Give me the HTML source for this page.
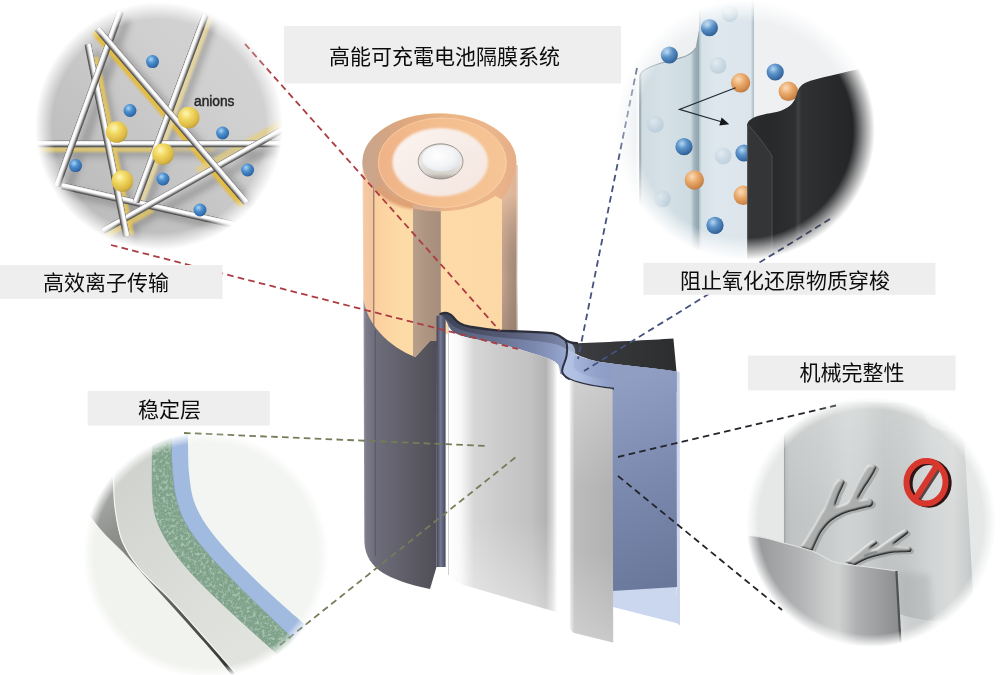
<!DOCTYPE html>
<html lang="zh"><head><meta charset="utf-8"><title>高能可充電电池隔膜系统</title>
<style>
html,body{margin:0;padding:0;background:#fff;}
body{width:1000px;height:675px;position:relative;overflow:hidden;font-family:"Liberation Sans",sans-serif;}
svg{position:absolute;left:0;top:0;display:block}
</style></head><body>
<svg width="1000" height="675" viewBox="0 0 1000 675">
<defs>
<radialGradient id="gYel" cx="0.38" cy="0.32" r="0.75">
 <stop offset="0" stop-color="#fdf5bb"/><stop offset="0.35" stop-color="#f3da62"/><stop offset="0.8" stop-color="#d9b642"/><stop offset="1" stop-color="#b39433"/>
</radialGradient>
<radialGradient id="gBlu" cx="0.38" cy="0.32" r="0.75">
 <stop offset="0" stop-color="#a9d4f5"/><stop offset="0.4" stop-color="#4d8fcf"/><stop offset="0.85" stop-color="#2f68a8"/><stop offset="1" stop-color="#1f4778"/>
</radialGradient>
<radialGradient id="gBlu2" cx="0.38" cy="0.32" r="0.75">
 <stop offset="0" stop-color="#b5d6f2"/><stop offset="0.4" stop-color="#5b93c9"/><stop offset="0.85" stop-color="#35679f"/><stop offset="1" stop-color="#234a78"/>
</radialGradient>
<radialGradient id="gPale" cx="0.38" cy="0.32" r="0.75">
 <stop offset="0" stop-color="#e4edf3"/><stop offset="0.6" stop-color="#b9cddc"/><stop offset="1" stop-color="#a3bbcd"/>
</radialGradient>
<radialGradient id="gOrg" cx="0.38" cy="0.32" r="0.75">
 <stop offset="0" stop-color="#fbdcb8"/><stop offset="0.45" stop-color="#e8a768"/><stop offset="0.85" stop-color="#cb8446"/><stop offset="1" stop-color="#a56a35"/>
</radialGradient>
<radialGradient id="fade" cx="0.5" cy="0.5" r="0.5">
 <stop offset="0" stop-color="#fff"/><stop offset="0.85" stop-color="#fff"/><stop offset="0.925" stop-color="#fff" stop-opacity="0.55"/><stop offset="1" stop-color="#fff" stop-opacity="0"/>
</radialGradient>
<filter id="b1" x="-20%" y="-20%" width="140%" height="140%"><feGaussianBlur stdDeviation="1"/></filter>
<filter id="b2" x="-20%" y="-20%" width="140%" height="140%"><feGaussianBlur stdDeviation="2"/></filter>
<filter id="b3" x="-20%" y="-20%" width="140%" height="140%"><feGaussianBlur stdDeviation="3.5"/></filter>
<filter id="b04" x="-5%" y="-5%" width="110%" height="110%"><feGaussianBlur stdDeviation="0.45"/></filter>
<filter id="b05" x="-20%" y="-20%" width="140%" height="140%"><feGaussianBlur stdDeviation="0.5"/></filter>

<linearGradient id="gGreyCyl" gradientUnits="userSpaceOnUse" x1="363" y1="0" x2="438" y2="0">
 <stop offset="0" stop-color="#a2a2af"/><stop offset="0.04" stop-color="#7b7b89"/><stop offset="0.16" stop-color="#6d6d7b"/>
 <stop offset="0.4" stop-color="#656470"/><stop offset="0.65" stop-color="#5c5b65"/><stop offset="0.85" stop-color="#55545d"/><stop offset="1" stop-color="#4e4d56"/>
</linearGradient>
<linearGradient id="gBody" gradientUnits="userSpaceOnUse" x1="362" y1="0" x2="517" y2="0">
 <stop offset="0" stop-color="#f9dcc4"/><stop offset="0.015" stop-color="#f4c9a4"/><stop offset="0.07" stop-color="#f3c59e"/><stop offset="0.073" stop-color="#a58671"/><stop offset="0.079" stop-color="#a58671"/><stop offset="0.082" stop-color="#fbcf9f"/>
 <stop offset="0.15" stop-color="#fcd4a2"/><stop offset="0.25" stop-color="#fddba6"/><stop offset="0.5" stop-color="#fddaa7"/><stop offset="1" stop-color="#fcd8a6"/>
</linearGradient>
<linearGradient id="gRStripH" gradientUnits="userSpaceOnUse" x1="502" y1="0" x2="518" y2="0">
 <stop offset="0" stop-color="#c4a48e"/><stop offset="0.5" stop-color="#ad927f"/><stop offset="0.85" stop-color="#a48a78"/><stop offset="1" stop-color="#a48a78" stop-opacity="0"/>
</linearGradient>
<linearGradient id="gRStripV" gradientUnits="userSpaceOnUse" x1="0" y1="195" x2="0" y2="335">
 <stop offset="0" stop-color="#f3c9a8" stop-opacity="0.7"/><stop offset="0.35" stop-color="#d0ab92" stop-opacity="0.2"/><stop offset="0.6" stop-color="#8f7a6c" stop-opacity="0"/><stop offset="1" stop-color="#7d6b60" stop-opacity="0.35"/>
</linearGradient>
<linearGradient id="gBand" gradientUnits="userSpaceOnUse" x1="413" y1="0" x2="441" y2="0">
 <stop offset="0" stop-color="#b9a08d"/><stop offset="0.5" stop-color="#ad9481"/><stop offset="1" stop-color="#a68e7c"/>
</linearGradient>
<linearGradient id="gBandDark" gradientUnits="userSpaceOnUse" x1="441" y1="0" x2="566" y2="0">
 <stop offset="0" stop-color="#3e4256"/><stop offset="0.5" stop-color="#545a74"/><stop offset="1" stop-color="#6b7494" stop-opacity="0.6"/>
</linearGradient>
<linearGradient id="gRim" gradientUnits="userSpaceOnUse" x1="362" y1="0" x2="516" y2="0">
 <stop offset="0" stop-color="#c8a68f"/><stop offset="0.1" stop-color="#cfa487"/><stop offset="0.3" stop-color="#e0a87d"/><stop offset="0.6" stop-color="#ecb688"/><stop offset="0.85" stop-color="#ebb48a"/><stop offset="1" stop-color="#e6ae88"/>
</linearGradient>
<linearGradient id="gRing" gradientUnits="userSpaceOnUse" x1="378" y1="0" x2="507" y2="0">
 <stop offset="0" stop-color="#efb387"/><stop offset="0.5" stop-color="#f4be8e"/><stop offset="1" stop-color="#f6c696"/>
</linearGradient>
<linearGradient id="gWhiteTop" x1="0" y1="0" x2="1" y2="1">
 <stop offset="0" stop-color="#fbf3ef"/><stop offset="1" stop-color="#f4e5df"/>
</linearGradient>
<linearGradient id="gBtnSide" x1="0" y1="0" x2="0" y2="1">
 <stop offset="0" stop-color="#d9d6d3"/><stop offset="0.55" stop-color="#ebe7e3"/><stop offset="0.85" stop-color="#d6d1cb"/><stop offset="1" stop-color="#9f9a94"/>
</linearGradient>
<radialGradient id="gBtnTop" cx="0.4" cy="0.4" r="0.7">
 <stop offset="0" stop-color="#ffffff"/><stop offset="0.6" stop-color="#f3f4f6"/><stop offset="0.9" stop-color="#e3e7ec"/><stop offset="1" stop-color="#cfd6de"/>
</radialGradient>
<linearGradient id="gSheet1" gradientUnits="userSpaceOnUse" x1="449" y1="0" x2="563" y2="0">
 <stop offset="0" stop-color="#ffffff"/><stop offset="0.1" stop-color="#f8f8f8"/><stop offset="0.22" stop-color="#d6d6d6"/>
 <stop offset="0.45" stop-color="#cbcbcb"/><stop offset="0.72" stop-color="#c1c1c1"/><stop offset="0.85" stop-color="#b3b3b3"/>
 <stop offset="0.91" stop-color="#d9d9d9"/><stop offset="0.95" stop-color="#ffffff"/><stop offset="1" stop-color="#ffffff"/>
</linearGradient>
<linearGradient id="gSheetFade" gradientUnits="userSpaceOnUse" x1="0" y1="520" x2="0" y2="612">
 <stop offset="0" stop-color="#fff" stop-opacity="0"/><stop offset="1" stop-color="#fff" stop-opacity="0.4"/>
</linearGradient>
<linearGradient id="gSheet2" gradientUnits="userSpaceOnUse" x1="569" y1="0" x2="616" y2="0">
 <stop offset="0" stop-color="#ffffff"/><stop offset="0.03" stop-color="#e6e6e6"/><stop offset="0.12" stop-color="#bcbcbc"/><stop offset="0.9" stop-color="#b2b2b2"/><stop offset="0.95" stop-color="#b4b4b6"/><stop offset="1" stop-color="#d5d8de"/>
</linearGradient>
<linearGradient id="gSheet2V" gradientUnits="userSpaceOnUse" x1="0" y1="383" x2="0" y2="643">
 <stop offset="0" stop-color="#fff" stop-opacity="0.3"/><stop offset="0.4" stop-color="#fff" stop-opacity="0"/><stop offset="0.65" stop-color="#fff" stop-opacity="0"/><stop offset="1" stop-color="#fff" stop-opacity="0.3"/>
</linearGradient>
<linearGradient id="gBlueSheet" gradientUnits="userSpaceOnUse" x1="612" y1="385" x2="690" y2="585">
 <stop offset="0" stop-color="#909ec3"/><stop offset="0.5" stop-color="#7a88ad"/><stop offset="1" stop-color="#68769a"/>
</linearGradient>
<linearGradient id="gBlueTop" gradientUnits="userSpaceOnUse" x1="446" y1="0" x2="678" y2="0">
 <stop offset="0" stop-color="#565c74"/><stop offset="0.2" stop-color="#656e8e"/><stop offset="0.38" stop-color="#7b88ae"/><stop offset="0.48" stop-color="#8f9ec6"/><stop offset="0.56" stop-color="#a3b4da"/><stop offset="0.64" stop-color="#93a2c9"/><stop offset="0.7" stop-color="#8d9dc6"/><stop offset="0.88" stop-color="#7b8ab2"/><stop offset="1" stop-color="#6f7ea6"/>
</linearGradient>
<linearGradient id="gCurlHi" gradientUnits="userSpaceOnUse" x1="564" y1="0" x2="613" y2="0">
 <stop offset="0" stop-color="#b6c5e7" stop-opacity="0.95"/><stop offset="0.35" stop-color="#b0c0e3" stop-opacity="0.8"/><stop offset="1" stop-color="#9fb0d6" stop-opacity="0"/>
</linearGradient>
<linearGradient id="gBlack" gradientUnits="userSpaceOnUse" x1="560" y1="0" x2="678" y2="0">
 <stop offset="0" stop-color="#4d4f57"/><stop offset="0.2" stop-color="#3b3c40"/><stop offset="0.6" stop-color="#333436"/><stop offset="1" stop-color="#2c2d2f"/>
</linearGradient>
<linearGradient id="gStrip" gradientUnits="userSpaceOnUse" x1="436" y1="0" x2="446" y2="0">
 <stop offset="0" stop-color="#3d3f4d"/><stop offset="0.45" stop-color="#747891"/><stop offset="0.75" stop-color="#5a5e75"/><stop offset="1" stop-color="#45485a"/>
</linearGradient>
<radialGradient id="m1f" cx="0.5" cy="0.5" r="0.5"><stop offset="0" stop-color="#fff"/><stop offset="0.86" stop-color="#fff"/><stop offset="0.93" stop-color="#fff" stop-opacity="0.5"/><stop offset="1" stop-color="#fff" stop-opacity="0"/></radialGradient><mask id="m1" maskUnits="userSpaceOnUse" x="35" y="2" width="248" height="248"><circle cx="159" cy="126" r="124" fill="url(#m1f)"/></mask><linearGradient id="c1bg" x1="0" y1="1" x2="1" y2="0"><stop offset="0" stop-color="#b6b6b6"/><stop offset="0.35" stop-color="#c2c2c2"/><stop offset="0.65" stop-color="#cfcfcf"/><stop offset="1" stop-color="#d8d8d8"/></linearGradient><radialGradient id="m2f" cx="0.5" cy="0.5" r="0.5"><stop offset="0" stop-color="#fff"/><stop offset="0.83" stop-color="#fff"/><stop offset="0.91" stop-color="#fff" stop-opacity="0.5"/><stop offset="1" stop-color="#fff" stop-opacity="0"/></radialGradient><mask id="m2" maskUnits="userSpaceOnUse" x="615" y="0" width="260" height="260"><circle cx="745" cy="130" r="130" fill="url(#m2f)"/></mask>
<linearGradient id="c2blk" gradientUnits="userSpaceOnUse" x1="747" y1="0" x2="880" y2="0">
 <stop offset="0" stop-color="#2b2c2e"/><stop offset="0.17" stop-color="#28292b"/><stop offset="0.3" stop-color="#2c2d2f"/><stop offset="0.36" stop-color="#2e2f31"/><stop offset="0.385" stop-color="#404143"/><stop offset="0.41" stop-color="#303133"/>
 <stop offset="0.6" stop-color="#2a2b2d"/><stop offset="0.8" stop-color="#242527"/><stop offset="1" stop-color="#1d1e20"/>
</linearGradient>
<linearGradient id="c2pA" gradientUnits="userSpaceOnUse" x1="639.5" y1="0" x2="699" y2="0">
 <stop offset="0" stop-color="#a3aeb3"/><stop offset="0.05" stop-color="#cfdce2"/><stop offset="0.4" stop-color="#d6e1e7"/><stop offset="0.86" stop-color="#cddbe1"/><stop offset="0.92" stop-color="#a3b5be"/><stop offset="1" stop-color="#8fa3ac"/>
</linearGradient>
<linearGradient id="c2pB" gradientUnits="userSpaceOnUse" x1="699" y1="0" x2="754" y2="0">
 <stop offset="0" stop-color="#aebfc8"/><stop offset="0.05" stop-color="#d6e2e8"/><stop offset="0.3" stop-color="#dde7ed"/><stop offset="0.94" stop-color="#dbe5eb"/><stop offset="1" stop-color="#a6b8c1"/>
</linearGradient><radialGradient id="m3f" cx="0.5" cy="0.5" r="0.5"><stop offset="0" stop-color="#fff"/><stop offset="0.91" stop-color="#fff"/><stop offset="0.955" stop-color="#fff" stop-opacity="0.5"/><stop offset="1" stop-color="#fff" stop-opacity="0"/></radialGradient><mask id="m3" maskUnits="userSpaceOnUse" x="83" y="432" width="246" height="246"><circle cx="206" cy="555" r="123" fill="url(#m3f)"/></mask>
<linearGradient id="c3white" gradientUnits="userSpaceOnUse" x1="120" y1="470" x2="250" y2="640"><stop offset="0" stop-color="#cfd2cd"/><stop offset="0.5" stop-color="#d9dcd6"/><stop offset="1" stop-color="#e0e3de"/></linearGradient>
<linearGradient id="c3dark" gradientUnits="userSpaceOnUse" x1="85" y1="495" x2="228" y2="668"><stop offset="0" stop-color="#aeb1ae"/><stop offset="0.2" stop-color="#909390"/><stop offset="0.45" stop-color="#727472"/><stop offset="0.8" stop-color="#4b4c4b"/><stop offset="1" stop-color="#343534"/></linearGradient>
<filter id="noise" x="0" y="0" width="100%" height="100%"><feTurbulence type="fractalNoise" baseFrequency="0.32" numOctaves="3" seed="7" result="n"/><feColorMatrix in="n" type="matrix" values="0 0 0 0 0.74  0 0 0 0 0.90  0 0 0 0 0.78  0 0 0 3.4 -1.6"/><feComposite in2="SourceGraphic" operator="in"/></filter>
<filter id="noise2" x="0" y="0" width="100%" height="100%"><feTurbulence type="fractalNoise" baseFrequency="0.8" numOctaves="2" seed="11" result="n"/><feColorMatrix in="n" type="matrix" values="0 0 0 0 0.36  0 0 0 0 0.52  0 0 0 0 0.43  0 0 0 3 -1.6"/><feComposite in2="SourceGraphic" operator="in"/></filter>
<radialGradient id="m4f" cx="0.5" cy="0.5" r="0.5"><stop offset="0" stop-color="#fff"/><stop offset="0.9" stop-color="#fff"/><stop offset="0.95" stop-color="#fff" stop-opacity="0.5"/><stop offset="1" stop-color="#fff" stop-opacity="0"/></radialGradient><mask id="m4" maskUnits="userSpaceOnUse" x="746" y="397" width="250" height="250"><circle cx="871" cy="522" r="125" fill="url(#m4f)"/></mask>
<linearGradient id="c4back" gradientUnits="userSpaceOnUse" x1="784" y1="0" x2="976" y2="0">
 <stop offset="0" stop-color="#b3b6b6"/><stop offset="0.03" stop-color="#c0c3c3"/><stop offset="0.2" stop-color="#c6c9c9"/><stop offset="0.33" stop-color="#d0d3d3"/><stop offset="0.4" stop-color="#cdd0d0"/>
 <stop offset="0.52" stop-color="#c0c3c3"/><stop offset="0.64" stop-color="#c4c7c7"/><stop offset="0.76" stop-color="#d2d5d5"/><stop offset="0.88" stop-color="#d8dada"/><stop offset="0.95" stop-color="#cccfcf"/><stop offset="1" stop-color="#bcbfbf"/>
</linearGradient>
<linearGradient id="c4backV" gradientUnits="userSpaceOnUse" x1="0" y1="400" x2="0" y2="520">
 <stop offset="0" stop-color="#fff" stop-opacity="0.22"/><stop offset="1" stop-color="#fff" stop-opacity="0"/>
</linearGradient>
<linearGradient id="c4front" gradientUnits="userSpaceOnUse" x1="748" y1="0" x2="899" y2="0">
 <stop offset="0" stop-color="#909294"/><stop offset="0.15" stop-color="#9fa1a3"/><stop offset="0.35" stop-color="#b2b4b5"/><stop offset="0.53" stop-color="#cbcdcd"/><stop offset="0.6" stop-color="#cfd1d1"/><stop offset="0.72" stop-color="#aeb0b2"/><stop offset="0.9" stop-color="#989a9c"/><stop offset="1" stop-color="#8a8c8e"/>
</linearGradient>
<filter id="bevel" x="-10%" y="-10%" width="120%" height="120%" color-interpolation-filters="sRGB">
 <feGaussianBlur in="SourceAlpha" stdDeviation="5" result="blur"/>
 <feDiffuseLighting in="blur" surfaceScale="8" diffuseConstant="1.0" lighting-color="#e1e3e3" result="lit"><feDistantLight azimuth="235" elevation="50"/></feDiffuseLighting>
 <feComposite in="lit" in2="SourceAlpha" operator="in"/>
</filter>
</defs>
<rect width="1000" height="675" fill="#fff"/>

<g id="battery">
 <!-- grey lower cylinder -->
 <path d="M363.5,300 L364.3,542 C365,556 372,566 383,573 C392,578.5 408,584.8 430,589 L436.5,567 L437,300 Z" fill="url(#gGreyCyl)"/>
 <line x1="375.3" y1="330" x2="375.3" y2="556" stroke="#53535e" stroke-width="1" opacity="0.85"/>
 <!-- orange body -->
 <path d="M362.4,162 A76.8,48.7 0 0 1 516.4,162 L516.4,166 L517.8,166 L517.8,334 L440,334 L440,341 L430,341 L415.4,357 C402,352 390,344 380,333 C372,324 365,312 363.3,298 Z" fill="url(#gBody)"/>
 <path d="M502,165 L518,165 L518,334 L502,334 Z" fill="#fff"/>
 <path d="M502,165 L518,165 L518,334 L502,334 Z" fill="url(#gRStripH)"/>
 <path d="M502,165 L518,165 L518,334 L502,334 Z" fill="url(#gRStripV)"/>
 <!-- dark band -->
 <path d="M413,200 L440.8,203 L440.8,334 L440.8,341 L430,341 L415.4,357 L413,356 Z" fill="url(#gBand)"/>
 <!-- rim -->
 <ellipse cx="439.4" cy="162.3" rx="77" ry="48.9" fill="url(#gRim)"/>
 <path d="M376,190 C385,203 400,208 413,209.5 L413,203 C398,200 386,194 380,184 Z" fill="#e09f72" opacity="0.75" filter="url(#b1)"/>
 <path d="M412.8,205 L440.4,207 L440.4,211.3 A77,48.9 0 0 1 412.8,208.3 Z" fill="#d9ad8f"/>
 <path d="M480,188 L487.8,192 L502,199.4 C504,198 506,195 507.5,192 C510,187 512,180 514.2,172 L505,170 Z" fill="url(#gRim)"/>
 <ellipse cx="442.3" cy="162.7" rx="64.3" ry="45" fill="url(#gRing)"/>
 <ellipse cx="442.3" cy="162.7" rx="64" ry="44.7" fill="none" stroke="#f9d2ac" stroke-width="0.9" opacity="0.8"/>
 <ellipse cx="440.2" cy="162.2" rx="47.7" ry="34.2" fill="url(#gWhiteTop)" filter="url(#b1)"/>
 <ellipse cx="440.6" cy="161.4" rx="22.4" ry="17.6" fill="url(#gBtnSide)" stroke="#938e88" stroke-width="0.9"/>
 <ellipse cx="441.4" cy="158.2" rx="19.4" ry="13.2" fill="url(#gBtnTop)"/>
 <!-- rolled layers, left strip -->
 <path d="M436.5,316 L445.6,313.5 L445.6,567 L440,567 L436.5,567 Z" fill="url(#gStrip)"/>
 <rect x="448" y="322" width="1" height="253" fill="#cfcfcf"/>
 <!-- black sheet -->
 <path d="M556,336 C566,338 568,342 577,343.2 C610,342 650,340 673.4,338.5 L676.5,371.5 C650,367.5 620,365 600,362 C585,359 575,354 565,348 Z" fill="url(#gBlack)"/>
 <!-- blue sheet right panel -->
 
 <path d="M613,590 L676.5,586 L678,623.5 L613,607 Z" fill="#cbd7ee"/>
 <path d="M675.5,371 L679.7,372 L680,625.5 L677,623.5 Z" fill="#ccd6ea"/>
 <!-- blue top band (between dark top edge and silver top edge) -->
 <path d="M441,314 C446,311.5 450,313.5 453,317 C457,322.5 461,325 470,326.8 C480,328.5 490,329.8 499,330.6 C515,331.6 540,331.6 554,333.6 C560,335 563,338.5 566,340.6 C567,345 566,347 566,349 C575,355 585,359 600,362 C620,365 650,367.5 676.5,371.5 L676.5,392 L612,392 C590,388 572,383 566,376 L560,374 C559.6,371 559.4,369 559,367 C558,364 556,362.5 554.4,361.4 C550,359 545,357.5 540.4,355.8 C533,353.5 525,351 518,348.8 C508,346.5 500,344 490,341.8 C480,340 470,338.5 462,336 C455,334 451,331 449,327 C447.5,323 446.5,321 445.6,320 Z" fill="url(#gBlueTop)"/>
 <path d="M441,314 C446,311.5 450,313.5 453,317 C457,322.5 461,325 470,326.8 C480,328.5 490,329.8 499,330.6 C515,331.6 540,331.6 554,333.6 C560,335 563,338.5 566,340.6 L566,349 C560,345 556,343.5 540,341.5 C520,339.5 500,338 480,334.5 C465,332 455,329 449,322 Z" fill="url(#gBandDark)"/>
 <path d="M611,363.5 C630,366 655,368.5 676.5,371.5 L677,587 L612,591 Z" fill="url(#gBlueSheet)"/>
 <!-- S curl highlight -->
 <path d="M566,341 C569,346 567.5,352 566.5,357 C565.5,363 563,368 563.5,372 C565,377 570,380 576,382 C588,385.5 600,387.5 613,388.6 L613,380 C600,379 585,376 577,371 C572,367 574,360 575,355 C576,350 574,345 570,342.5 Z" fill="url(#gCurlHi)"/>
 <path d="M565.5,340.6 C568,345 567.5,350 566.5,356 C565.5,362 561.5,367 562.2,372 C563.5,376.5 568,379 574,381.2 C588,385.5 600,387.5 614,388.8" fill="none" stroke="#2f3240" stroke-width="2"/>
 <!-- dark top edge -->
 <path d="M440.5,314 C446,311.5 450,313.5 453,317 C457,322.5 461,325 470,326.8 C480,328.5 490,329.8 499,330.6 C515,331.6 540,331.6 554,333.6 C560,335 563,338.5 566,340.6 C569,342.5 573,343 577,343.2" fill="none" stroke="#2c2e3a" stroke-width="2.4" stroke-linecap="round"/>
 <!-- main silver sheet -->
 <path d="M449,327 C451,331 455,334 462,336 C470,338.5 480,340 490,341.8 C500,344 508,346.5 518,348.8 C525,351 533,353.5 540.4,355.8 C545,357.5 550,359 554.4,361.4 C556,362.5 558,364 559,367 C559.4,369 559.6,371 560,374 L563,376 L563,614 L464,585 L449,579 Z" fill="url(#gSheet1)"/>
 <path d="M449,520 L563,520 L563,616 L449,580 Z" fill="url(#gSheetFade)"/>
 <!-- second silver sheet -->
 <path d="M569.5,379.5 C576,383 590,386.3 612.5,389 L613.2,642.5 L574.5,633 C571.5,632 569.8,629 569.8,625 Z" fill="url(#gSheet2)"/>
 <path d="M569.5,379.5 C576,383 590,386.3 612.5,389 L613.2,642.5 L574.5,633 C571.5,632 569.8,629 569.8,625 Z" fill="url(#gSheet2V)"/>
</g>
<g id="leaders" fill="none"><line x1="245" y1="44" x2="500" y2="331" stroke="#ad3c42" stroke-width="1.8" stroke-dasharray="6.6 4.3"/><line x1="111" y1="245" x2="518" y2="349" stroke="#ad3c42" stroke-width="1.8" stroke-dasharray="6.6 4.3"/><line x1="637" y1="68" x2="578" y2="359" stroke="#45527f" stroke-width="1.8" stroke-dasharray="6.6 4.3"/><line x1="830" y1="219" x2="584" y2="371" stroke="#45527f" stroke-width="1.8" stroke-dasharray="6.6 4.3"/><line x1="184" y1="433" x2="488" y2="446" stroke="#737e58" stroke-width="1.8" stroke-dasharray="6.6 4.3"/><line x1="280" y1="645" x2="516" y2="457" stroke="#737e58" stroke-width="1.8" stroke-dasharray="6.6 4.3"/><line x1="618" y1="457" x2="836" y2="405.5" stroke="#23252b" stroke-width="1.8" stroke-dasharray="6.6 4.3"/><line x1="618" y1="476" x2="782" y2="610" stroke="#23252b" stroke-width="1.8" stroke-dasharray="6.6 4.3"/></g><g mask="url(#m1)"><rect x="35" y="2" width="248" height="248" fill="url(#c1bg)"/><g filter="url(#b3)" opacity="0.4" stroke="#555" stroke-width="7"><line x1="127" y1="19" x2="67" y2="193"/><line x1="97" y1="51" x2="136" y2="243"/><line x1="107" y1="37" x2="256" y2="210"/><line x1="213" y1="22" x2="146" y2="208"/><line x1="294" y1="136" x2="113" y2="238"/><line x1="45" y1="153" x2="293" y2="153"/><line x1="69" y1="192" x2="255" y2="234"/></g><g filter="url(#b1)"><line x1="93.75" y1="32.02" x2="242.35" y2="205.62" stroke="#e4bc42" stroke-width="5.6" opacity="1"/><line x1="95.90" y1="57.28" x2="131.40" y2="234.98" stroke="#e6c85e" stroke-width="5.2" opacity="0.9"/><line x1="210.37" y1="16.81" x2="140.87" y2="203.81" stroke="#e8d79c" stroke-width="5.2" opacity="0.9"/><line x1="30.00" y1="149.60" x2="160.00" y2="149.60" stroke="#e4c96a" stroke-width="5" opacity="0.85"/><line x1="160.00" y1="149.60" x2="215.00" y2="149.60" stroke="#e4c96a" stroke-width="5" opacity="0.4"/><line x1="281.06" y1="123.77" x2="197.06" y2="171.07" stroke="#e6cf80" stroke-width="7" opacity="0.75"/><line x1="152.70" y1="209.29" x2="105.70" y2="235.79" stroke="#e4c660" stroke-width="6" opacity="0.8"/></g><g filter="url(#b04)"><line x1="62.00" y1="186.00" x2="246.00" y2="227.50" stroke="#4a4a4a" stroke-width="6.60" opacity="1"/><line x1="62.08" y1="185.66" x2="246.08" y2="227.16" stroke="#6e6e6e" stroke-width="5.90" opacity="1"/><line x1="62.15" y1="185.32" x2="246.15" y2="226.82" stroke="#a6a6a6" stroke-width="5.00" opacity="1"/><line x1="62.22" y1="185.02" x2="246.22" y2="226.52" stroke="#d4d4d4" stroke-width="4.00" opacity="1"/><line x1="62.28" y1="184.78" x2="246.28" y2="226.28" stroke="#f2f2f2" stroke-width="2.80" opacity="1"/><line x1="62.31" y1="184.63" x2="246.31" y2="226.13" stroke="#ffffff" stroke-width="1.60" opacity="1"/><line x1="30.00" y1="144.00" x2="290.00" y2="144.00" stroke="#4a4a4a" stroke-width="6.60" opacity="1"/><line x1="30.00" y1="143.65" x2="290.00" y2="143.65" stroke="#6e6e6e" stroke-width="5.90" opacity="1"/><line x1="30.00" y1="143.30" x2="290.00" y2="143.30" stroke="#a6a6a6" stroke-width="5.00" opacity="1"/><line x1="30.00" y1="143.00" x2="290.00" y2="143.00" stroke="#d4d4d4" stroke-width="4.00" opacity="1"/><line x1="30.00" y1="142.75" x2="290.00" y2="142.75" stroke="#f2f2f2" stroke-width="2.80" opacity="1"/><line x1="30.00" y1="142.60" x2="290.00" y2="142.60" stroke="#ffffff" stroke-width="1.60" opacity="1"/><line x1="284.00" y1="129.00" x2="103.00" y2="231.00" stroke="#4a4a4a" stroke-width="6.60" opacity="1"/><line x1="283.83" y1="128.70" x2="102.83" y2="230.70" stroke="#6e6e6e" stroke-width="5.90" opacity="1"/><line x1="283.66" y1="128.39" x2="102.66" y2="230.39" stroke="#a6a6a6" stroke-width="5.00" opacity="1"/><line x1="283.51" y1="128.13" x2="102.51" y2="230.13" stroke="#d4d4d4" stroke-width="4.00" opacity="1"/><line x1="283.39" y1="127.91" x2="102.39" y2="229.91" stroke="#f2f2f2" stroke-width="2.80" opacity="1"/><line x1="283.31" y1="127.78" x2="102.31" y2="229.78" stroke="#ffffff" stroke-width="1.60" opacity="1"/><line x1="87.80" y1="44.30" x2="126.30" y2="236.00" stroke="#4a4a4a" stroke-width="6.60" opacity="1"/><line x1="88.14" y1="44.23" x2="126.64" y2="235.93" stroke="#6e6e6e" stroke-width="5.90" opacity="1"/><line x1="88.49" y1="44.16" x2="126.99" y2="235.86" stroke="#a6a6a6" stroke-width="5.00" opacity="1"/><line x1="88.78" y1="44.10" x2="127.28" y2="235.80" stroke="#d4d4d4" stroke-width="4.00" opacity="1"/><line x1="89.03" y1="44.05" x2="127.53" y2="235.75" stroke="#f2f2f2" stroke-width="2.80" opacity="1"/><line x1="89.17" y1="44.02" x2="127.67" y2="235.72" stroke="#ffffff" stroke-width="1.60" opacity="1"/><line x1="205.50" y1="15.00" x2="136.00" y2="202.00" stroke="#4a4a4a" stroke-width="6.60" opacity="1"/><line x1="205.17" y1="14.88" x2="135.67" y2="201.88" stroke="#6e6e6e" stroke-width="5.90" opacity="1"/><line x1="204.84" y1="14.76" x2="135.34" y2="201.76" stroke="#a6a6a6" stroke-width="5.00" opacity="1"/><line x1="204.56" y1="14.65" x2="135.06" y2="201.65" stroke="#d4d4d4" stroke-width="4.00" opacity="1"/><line x1="204.33" y1="14.56" x2="134.83" y2="201.56" stroke="#f2f2f2" stroke-width="2.80" opacity="1"/><line x1="204.19" y1="14.51" x2="134.69" y2="201.51" stroke="#ffffff" stroke-width="1.60" opacity="1"/><line x1="120.50" y1="11.60" x2="57.00" y2="186.00" stroke="#4a4a4a" stroke-width="6.60" opacity="1"/><line x1="120.17" y1="11.48" x2="56.67" y2="185.88" stroke="#6e6e6e" stroke-width="5.90" opacity="1"/><line x1="119.84" y1="11.36" x2="56.34" y2="185.76" stroke="#a6a6a6" stroke-width="5.00" opacity="1"/><line x1="119.56" y1="11.26" x2="56.06" y2="185.66" stroke="#d4d4d4" stroke-width="4.00" opacity="1"/><line x1="119.33" y1="11.17" x2="55.83" y2="185.57" stroke="#f2f2f2" stroke-width="2.80" opacity="1"/><line x1="119.18" y1="11.12" x2="55.68" y2="185.52" stroke="#ffffff" stroke-width="1.60" opacity="1"/><line x1="97.40" y1="28.90" x2="246.00" y2="202.50" stroke="#4a4a4a" stroke-width="6.60" opacity="1"/><line x1="97.67" y1="28.67" x2="246.27" y2="202.27" stroke="#6e6e6e" stroke-width="5.90" opacity="1"/><line x1="97.93" y1="28.44" x2="246.53" y2="202.04" stroke="#a6a6a6" stroke-width="5.00" opacity="1"/><line x1="98.16" y1="28.25" x2="246.76" y2="201.85" stroke="#d4d4d4" stroke-width="4.00" opacity="1"/><line x1="98.35" y1="28.09" x2="246.95" y2="201.69" stroke="#f2f2f2" stroke-width="2.80" opacity="1"/><line x1="98.46" y1="27.99" x2="247.06" y2="201.59" stroke="#ffffff" stroke-width="1.60" opacity="1"/></g><circle cx="116.7" cy="132" r="10.8" fill="url(#gYel)"/><circle cx="188.7" cy="117.5" r="10.8" fill="url(#gYel)"/><circle cx="163" cy="154" r="10.8" fill="url(#gYel)"/><circle cx="122.4" cy="181" r="10.8" fill="url(#gYel)"/><circle cx="152.5" cy="61.6" r="6.5" fill="url(#gBlu)"/><circle cx="130" cy="110.5" r="6.5" fill="url(#gBlu)"/><circle cx="222.6" cy="133" r="6.5" fill="url(#gBlu)"/><circle cx="75.5" cy="165.6" r="6.5" fill="url(#gBlu)"/><circle cx="163" cy="179" r="6.5" fill="url(#gBlu)"/><circle cx="247.6" cy="170" r="6.5" fill="url(#gBlu)"/><circle cx="200" cy="210" r="6.5" fill="url(#gBlu)"/><text x="194" y="106" font-family="Liberation Sans, sans-serif" font-size="14" textLength="40.5" lengthAdjust="spacingAndGlyphs" fill="#262626" stroke="#262626" stroke-width="0.45">anions</text></g><g mask="url(#m2)"><rect x="615" y="0" width="260" height="260" fill="#eef0f2"/><rect x="636.5" y="76" width="3" height="190" fill="#f7f9fa"/><path d="M639.5,76 C640,70 650,66 665,62 C680,58 692,56 695.5,48 L699,30 L699,260 L639.5,260 Z" fill="url(#c2pA)"/><path d="M640,260 L640,76 C640.5,70 650,66 665,62 C680,58 692,56 695.5,48" fill="none" stroke="#97a6ad" stroke-width="1.2"/><rect x="699" y="0" width="55" height="262" fill="url(#c2pB)"/><g opacity="0.55"><circle cx="718" cy="65.5" r="8.4" fill="url(#gPale)"/></g><g opacity="0.55"><circle cx="655.4" cy="124.4" r="8.4" fill="url(#gPale)"/></g><g opacity="0.55"><circle cx="723.2" cy="156" r="8.4" fill="url(#gPale)"/></g><g opacity="0.55"><circle cx="662.4" cy="199" r="8.4" fill="url(#gPale)"/></g><g opacity="0.55"><circle cx="729.8" cy="13.5" r="8.4" fill="url(#gPale)"/></g><circle cx="709.4" cy="27.7" r="8.6" fill="url(#gBlu2)"/><circle cx="669.3" cy="55" r="8.6" fill="url(#gBlu2)"/><circle cx="775.2" cy="72" r="8.6" fill="url(#gBlu2)"/><circle cx="684" cy="146.7" r="8.6" fill="url(#gBlu2)"/><circle cx="744" cy="153" r="8.6" fill="url(#gBlu2)"/><circle cx="715" cy="225.3" r="8.6" fill="url(#gBlu2)"/><circle cx="740.6" cy="82.8" r="9.7" fill="url(#gOrg)"/><circle cx="788.3" cy="91.3" r="9.7" fill="url(#gOrg)"/><circle cx="694.3" cy="180" r="9.7" fill="url(#gOrg)"/><circle cx="743.3" cy="195.3" r="9.7" fill="url(#gOrg)"/><path d="M735.6,87.8 L679.4,109.4 L723,122.3" fill="none" stroke="#232a32" stroke-width="1.15"/><path d="M729.2,124.2 L719.3,125.6 L721.6,117.4 Z" fill="#14181d"/><path d="M747,260 L747,126 C747,122 750,119 757,116.3 C766,113.5 772,113 776.6,112 C783,110.5 787,108 790.7,105 C795,101 796,96 797.7,91 C800,86 802,84.5 806,82.5 C812,80 818,78.5 824.5,77 C834,75 842,73 850,71 L885,64 L885,260 Z" fill="url(#c2blk)"/><path d="M747.5,124 C754,131 766,146 772,156 L772,262 L747.5,262 Z" fill="#343537"/><path d="M747.5,124 C754,131 766,146 772,156 L772,262" fill="none" stroke="#4d4e50" stroke-width="1"/><line x1="747.6" y1="126" x2="747.6" y2="262" stroke="#5a5b5d" stroke-width="1"/></g><g mask="url(#m3)"><rect x="83" y="432" width="246" height="246" fill="#f2f5f1"/><path d="M112.5,453.9 C112.7,458.6 113.1,472.5 113.5,481.8 C114.0,491.1 113.8,499.8 115.3,509.6 C116.7,519.5 118.2,531.1 122.2,541.0 C126.3,550.8 131.5,559.0 139.6,568.8 C147.8,578.7 160.5,589.1 171.0,600.2 C181.4,611.2 193.0,624.5 202.3,635.0 C211.6,645.4 219.7,654.7 226.7,662.8 C233.6,671.0 241.2,680.3 244.1,683.7 L60,700 L60,430 Z" fill="url(#c3dark)"/><path d="M73.5,495.7 C76.1,498.9 83.9,508.5 89.2,514.9 C94.4,521.2 98.7,527.3 104.8,534.0 C110.9,540.7 117.0,545.6 125.7,554.9 C134.4,564.2 146.6,578.1 157.0,589.7 C167.5,601.3 178.5,613.5 188.4,624.5 C198.2,635.6 209.3,647.8 216.2,655.9 C223.2,664.0 226.1,668.1 230.2,673.3 C234.2,678.5 238.9,684.9 240.6,687.2 L40,700 L40,470 Z" fill="#f0f3ee"/><path d="M152.4,445.8 C152.4,453.5 151.8,479.8 152.4,492.0 C153.1,504.2 153.4,510.0 156.3,519.0 C159.2,528.0 164.0,537.0 169.8,546.0 C175.6,555.0 182.9,563.9 191.0,572.9 C199.0,581.9 208.9,591.2 217.9,599.9 C226.9,608.6 234.0,615.0 244.9,624.9 C255.8,634.9 277.0,653.8 283.4,659.6 L244.1,683.7 C241.2,680.3 233.6,671.0 226.7,662.8 C219.7,654.7 211.6,645.4 202.3,635.0 C193.0,624.5 181.4,611.2 171.0,600.2 C160.5,589.1 147.8,578.7 139.6,568.8 C131.5,559.0 126.3,550.8 122.2,541.0 C118.2,531.1 116.7,519.5 115.3,509.6 C113.8,499.8 114.0,491.1 113.5,481.8 C113.1,472.5 112.7,458.6 112.5,453.9 Z" fill="url(#c3white)"/><path d="M112.5,453.9 C112.7,458.6 113.1,472.5 113.5,481.8 C114.0,491.1 113.8,499.8 115.3,509.6 C116.7,519.5 118.2,531.1 122.2,541.0 C126.3,550.8 131.5,559.0 139.6,568.8 C147.8,578.7 160.5,589.1 171.0,600.2 C181.4,611.2 193.0,624.5 202.3,635.0 C211.6,645.4 219.7,654.7 226.7,662.8 C233.6,671.0 241.2,680.3 244.1,683.7" fill="none" stroke="#f4f6f2" stroke-width="1.2"/><path d="M171.7,430.4 C171.7,435.5 171.1,450.3 171.7,461.2 C172.4,472.1 173.3,485.6 175.6,495.9 C177.8,506.2 180.4,513.9 185.2,522.9 C190.0,531.8 197.1,540.8 204.5,549.8 C211.8,558.8 220.8,567.8 229.5,576.8 C238.2,585.8 244.9,592.5 256.5,603.8 C268.0,615.0 291.8,637.5 298.8,644.2 L283.4,659.6 C277.0,653.8 255.8,634.9 244.9,624.9 C234.0,615.0 226.9,608.6 217.9,599.9 C208.9,591.2 199.0,581.9 191.0,572.9 C182.9,563.9 175.6,555.0 169.8,546.0 C164.0,537.0 159.2,528.0 156.3,519.0 C153.4,510.0 153.1,504.2 152.4,492.0 C151.8,479.8 152.4,453.5 152.4,445.8 Z" fill="#7fa189"/><path d="M171.7,430.4 C171.7,435.5 171.1,450.3 171.7,461.2 C172.4,472.1 173.3,485.6 175.6,495.9 C177.8,506.2 180.4,513.9 185.2,522.9 C190.0,531.8 197.1,540.8 204.5,549.8 C211.8,558.8 220.8,567.8 229.5,576.8 C238.2,585.8 244.9,592.5 256.5,603.8 C268.0,615.0 291.8,637.5 298.8,644.2 L283.4,659.6 C277.0,653.8 255.8,634.9 244.9,624.9 C234.0,615.0 226.9,608.6 217.9,599.9 C208.9,591.2 199.0,581.9 191.0,572.9 C182.9,563.9 175.6,555.0 169.8,546.0 C164.0,537.0 159.2,528.0 156.3,519.0 C153.4,510.0 153.1,504.2 152.4,492.0 C151.8,479.8 152.4,453.5 152.4,445.8 Z" fill="#fff" filter="url(#noise)" opacity="0.42"/><path d="M171.7,430.4 C171.7,435.5 171.1,450.3 171.7,461.2 C172.4,472.1 173.3,485.6 175.6,495.9 C177.8,506.2 180.4,513.9 185.2,522.9 C190.0,531.8 197.1,540.8 204.5,549.8 C211.8,558.8 220.8,567.8 229.5,576.8 C238.2,585.8 244.9,592.5 256.5,603.8 C268.0,615.0 291.8,637.5 298.8,644.2 L283.4,659.6 C277.0,653.8 255.8,634.9 244.9,624.9 C234.0,615.0 226.9,608.6 217.9,599.9 C208.9,591.2 199.0,581.9 191.0,572.9 C182.9,563.9 175.6,555.0 169.8,546.0 C164.0,537.0 159.2,528.0 156.3,519.0 C153.4,510.0 153.1,504.2 152.4,492.0 C151.8,479.8 152.4,453.5 152.4,445.8 Z" fill="#fff" filter="url(#noise2)" opacity="0.55"/><path d="M187.9,430.4 C188.1,437.5 187.9,460.6 189.0,472.8 C190.2,485.0 191.3,494.0 194.8,503.6 C198.4,513.2 203.8,521.6 210.2,530.6 C216.7,539.6 225.0,548.5 233.3,557.5 C241.7,566.5 252.0,576.5 260.3,584.5 C268.7,592.5 274.4,597.7 283.4,605.7 C292.4,613.7 309.1,628.1 314.2,632.6 L298.8,644.2 C291.8,637.5 268.0,615.0 256.5,603.8 C244.9,592.5 238.2,585.8 229.5,576.8 C220.8,567.8 211.8,558.8 204.5,549.8 C197.1,540.8 190.0,531.8 185.2,522.9 C180.4,513.9 177.8,506.2 175.6,495.9 C173.3,485.6 172.4,472.1 171.7,461.2 C171.1,450.3 171.7,435.5 171.7,430.4 Z" fill="#a1badf"/><path d="M171.7,430.4 C171.7,435.5 171.1,450.3 171.7,461.2 C172.4,472.1 173.3,485.6 175.6,495.9 C177.8,506.2 180.4,513.9 185.2,522.9 C190.0,531.8 197.1,540.8 204.5,549.8 C211.8,558.8 220.8,567.8 229.5,576.8 C238.2,585.8 244.9,592.5 256.5,603.8 C268.0,615.0 291.8,637.5 298.8,644.2" fill="none" stroke="#5f7f78" stroke-width="0.8" opacity="0.6"/><path d="M152.4,445.8 C152.4,453.5 151.8,479.8 152.4,492.0 C153.1,504.2 153.4,510.0 156.3,519.0 C159.2,528.0 164.0,537.0 169.8,546.0 C175.6,555.0 182.9,563.9 191.0,572.9 C199.0,581.9 208.9,591.2 217.9,599.9 C226.9,608.6 234.0,615.0 244.9,624.9 C255.8,634.9 277.0,653.8 283.4,659.6" fill="none" stroke="#6f8a78" stroke-width="0.7" opacity="0.6"/></g><g mask="url(#m4)"><rect x="746" y="397" width="250" height="250" fill="#e6e8e8"/><path d="M784,616 L784,434 C790,420 812,404 836,401.8 L922,403 C923,410 924,418 930,425 C936,430 950,431.5 964,435 L974,611 C960,618 946,621.5 930,620.5 C918,619.5 908,616.5 900,614.5 Z" fill="url(#c4back)"/><path d="M784,616 L784,434 C790,420 812,404 836,401.8 L922,403 C923,410 924,418 930,425 C936,430 950,431.5 964,435 L974,611 C960,618 946,621.5 930,620.5 C918,619.5 908,616.5 900,614.5 Z" fill="url(#c4backV)"/><path d="M784.6,434 L784.6,545" stroke="#a4a7a8" stroke-width="1.3" fill="none"/><path d="M897,571 L930,575 L935,650 L902,650 Z" fill="#9fa2a3" opacity="0.35" filter="url(#b3)"/><g transform="translate(790,450) scale(0.19268)"><path d="M50,505 C80,460 120,395 150,340 C160,320 170,310 175,300 C190,265 205,225 215,200 C225,180 235,165 245,155 C252,146 278,148 285,165 C275,190 262,215 255,230 C248,250 240,270 235,292 C262,285 290,278 300,265 C320,225 340,180 355,150 C370,125 382,102 395,85 C405,70 442,68 450,88 C435,125 410,160 390,190 C375,215 362,238 352,256 C365,256 375,255 385,253 C402,244 432,254 432,272 C432,290 415,299 400,297 C375,303 350,310 330,315 C300,322 275,332 260,340 C240,350 215,365 200,380 C185,395 170,415 160,430 C145,460 130,490 115,525 Z" fill="#6f7273" opacity="0.35" transform="translate(14,10)" filter="url(#b3)"/><path d="M285,582 C310,560 335,540 352,527 C370,512 395,490 425,470 C438,462 458,470 452,484 C440,494 425,505 412,516 C425,515 438,512 450,508 C480,488 520,455 585,415 C600,406 622,418 612,432 C590,450 560,470 535,492 C550,496 580,498 615,500 C635,500 638,528 618,530 C590,532 560,532 540,532 C500,538 450,548 400,566 C380,574 350,590 335,600 Z" fill="#6f7273" opacity="0.35" transform="translate(12,10)" filter="url(#b3)"/><path d="M50,505 C80,460 120,395 150,340 C160,320 170,310 175,300 C190,265 205,225 215,200 C225,180 235,165 245,155 C252,146 278,148 285,165 C275,190 262,215 255,230 C248,250 240,270 235,292 C262,285 290,278 300,265 C320,225 340,180 355,150 C370,125 382,102 395,85 C405,70 442,68 450,88 C435,125 410,160 390,190 C375,215 362,238 352,256 C365,256 375,255 385,253 C402,244 432,254 432,272 C432,290 415,299 400,297 C375,303 350,310 330,315 C300,322 275,332 260,340 C240,350 215,365 200,380 C185,395 170,415 160,430 C145,460 130,490 115,525 Z" fill="#b0b3b3" filter="url(#bevel)"/><path d="M285,582 C310,560 335,540 352,527 C370,512 395,490 425,470 C438,462 458,470 452,484 C440,494 425,505 412,516 C425,515 438,512 450,508 C480,488 520,455 585,415 C600,406 622,418 612,432 C590,450 560,470 535,492 C550,496 580,498 615,500 C635,500 638,528 618,530 C590,532 560,532 540,532 C500,538 450,548 400,566 C380,574 350,590 335,600 Z" fill="#b0b3b3" filter="url(#bevel)"/><path d="M388,548 C405,540 425,534 448,530" stroke="#7d8081" stroke-width="12" stroke-linecap="round" fill="none" opacity="0.7" filter="url(#b3)"/></g><path d="M748,535 C765,537 776,540.5 784,543 C795,546 803,548 812,551 C820,554 826,558.5 832,561 C840,564 846,564.5 852,565 C868,567 882,569 896.5,571 L902,660 L748,660 Z" fill="url(#c4front)"/><path d="M748,535 C765,537 776,540.5 784,543 C795,546 803,548 812,551 C820,554 826,558.5 832,561 C840,564 846,564.5 852,565 C868,567 882,569 896.5,571" fill="none" stroke="#e0e2e2" stroke-width="1.1"/><path d="M896.4,571 L901.5,660" stroke="#4f5153" stroke-width="2.2" fill="none"/><g transform="translate(926,482.3) rotate(5)"><ellipse cx="3.2" cy="0.8" rx="19.5" ry="21.3" fill="none" stroke="#2e1414" stroke-width="6"/><line x1="11.8" y1="-16.2" x2="-6.2" y2="17.6" stroke="#2e1414" stroke-width="5.6" opacity="0.75"/><ellipse cx="0" cy="0" rx="19.5" ry="21.3" fill="none" stroke="#d8372d" stroke-width="6"/><line x1="9" y1="-17" x2="-9" y2="17" stroke="#d8372d" stroke-width="6"/></g></g><g id="labels"><rect x="284" y="26" width="337" height="57.5" fill="#eeeeee"/><text x="329" y="63.5" font-family="'Liberation Sans', 'Noto Sans CJK SC', sans-serif" font-size="21" fill="#0c0c0c">高能可充電电池隔膜系统</text><rect x="0" y="265" width="222.5" height="34" fill="#eeeeee"/><text x="43" y="290" font-family="'Liberation Sans', 'Noto Sans CJK SC', sans-serif" font-size="21" fill="#0c0c0c">高效离子传输</text><rect x="643.4" y="262.8" width="292" height="32" fill="#eeeeee"/><text x="680" y="288" font-family="'Liberation Sans', 'Noto Sans CJK SC', sans-serif" font-size="21" fill="#0c0c0c">阻止氧化还原物质穿梭</text><rect x="87.6" y="391" width="182.2" height="34.5" fill="#eeeeee"/><text x="138" y="417.3" font-family="'Liberation Sans', 'Noto Sans CJK SC', sans-serif" font-size="21" fill="#0c0c0c">稳定层</text><rect x="748" y="355.6" width="207.6" height="34.8" fill="#eeeeee"/><text x="799.5" y="379.8" font-family="'Liberation Sans', 'Noto Sans CJK SC', sans-serif" font-size="21" fill="#0c0c0c">机械完整性</text></g>
</svg>
</body></html>
